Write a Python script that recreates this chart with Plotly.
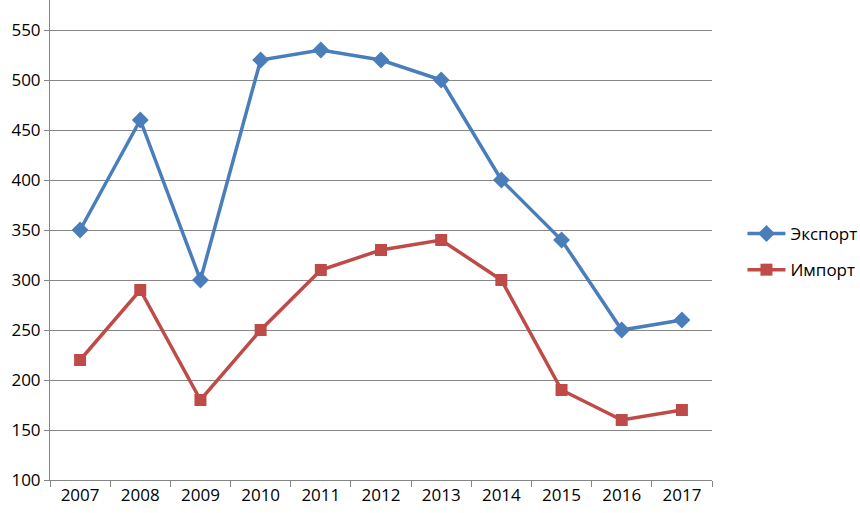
import plotly.graph_objects as go

years = ["2007", "2008", "2009", "2010", "2011", "2012", "2013", "2014", "2015", "2016", "2017"]
export_vals = [350, 460, 300, 520, 530, 520, 500, 400, 340, 250, 260]
import_vals = [220, 290, 180, 250, 310, 330, 340, 300, 190, 160, 170]
y_ticks = [100, 150, 200, 250, 300, 350, 400, 450, 500, 550]

fig = go.Figure()
fig.add_trace(go.Scatter(x=years, y=export_vals, name="Экспорт", mode="lines+markers",
                         legendgroup="a",
                         line=dict(color="#4a7ebb", width=3.5),
                         marker=dict(symbol="diamond", size=13, color="#4a7ebb")))
fig.add_trace(go.Scatter(x=years, y=import_vals, name="Импорт", mode="lines+markers",
                         legendgroup="b",
                         line=dict(color="#be4b48", width=3.5),
                         marker=dict(symbol="square", size=12, color="#be4b48")))

fig.update_layout(
    width=860, height=513,
    margin=dict(l=50, r=148, t=0, b=33, autoexpand=False),
    paper_bgcolor="white", plot_bgcolor="white",
    font=dict(family="Open Sans, Lato, sans-serif", size=17, color="#000000"),
    showlegend=True,
    legend=dict(x=1.046, y=0.475, xanchor="left", yanchor="middle",
                font=dict(size=17), tracegroupgap=11, itemwidth=38,
                bgcolor="rgba(0,0,0,0)"),
    xaxis=dict(type="category", showgrid=False, showline=True, linecolor="#868686", linewidth=1,
               ticks="outside", tickson="boundaries", ticklen=6, tickcolor="#868686",
               range=[-0.5, 10.5], tickfont=dict(size=17), automargin=False),
    yaxis=dict(range=[100, 580], tickvals=y_ticks, showgrid=True, gridcolor="#868686", gridwidth=1,
               showline=True, linecolor="#868686", linewidth=1, zeroline=False,
               ticks="outside", ticklen=5, tickcolor="#868686", tickfont=dict(size=17),
               automargin=False),
)

fig.write_html("out.html", config={"displayModeBar": False},
               post_script="document.body.style.margin='0';")
